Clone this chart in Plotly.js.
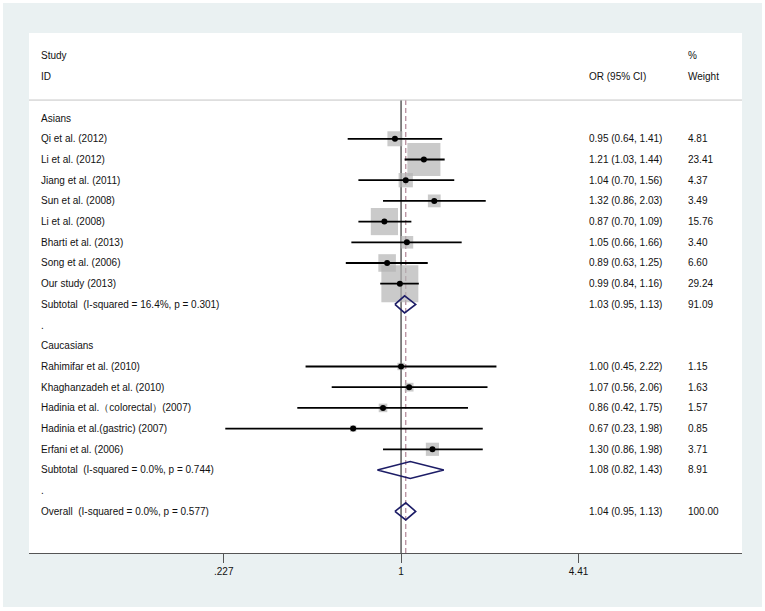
<!DOCTYPE html>
<html><head><meta charset="utf-8">
<script src="https://cdn.plot.ly/plotly-3.0.1.min.js"></script>
<style>html,body{margin:0;padding:0;background:#fff}</style>
</head><body><div id="chart" style="width:765px;height:611px"></div>
<script>
// ---- data ----
const groupNames = ["Asians", "Caucasians"];
const asianStudies = ["Qi et al. (2012)", "Li et al. (2012)", "Jiang et al. (2011)", "Sun et al. (2008)",
  "Li et al. (2008)", "Bharti et al. (2013)", "Song et al. (2006)", "Our study (2013)"];
const asianOR = [0.95, 1.21, 1.04, 1.32, 0.87, 1.05, 0.89, 0.99];
const asianLo = [0.64, 1.03, 0.70, 0.86, 0.70, 0.66, 0.63, 0.84];
const asianHi = [1.41, 1.44, 1.56, 2.03, 1.09, 1.66, 1.25, 1.16];
const asianWeight = [4.81, 23.41, 4.37, 3.49, 15.76, 3.40, 6.60, 29.24];
const cauStudies = ["Rahimifar et al. (2010)", "Khaghanzadeh et al. (2010)", "Hadinia et al.（colorectal）(2007)",
  "Hadinia et al.(gastric) (2007)", "Erfani et al. (2006)"];
const cauOR = [1.00, 1.07, 0.86, 0.67, 1.30];
const cauLo = [0.45, 0.56, 0.42, 0.23, 0.86];
const cauHi = [2.22, 2.06, 1.75, 1.98, 1.98];
const cauWeight = [1.15, 1.63, 1.57, 0.85, 3.71];
const subtotalLabels = ["Subtotal  (I-squared = 16.4%, p = 0.301)", "Subtotal  (I-squared = 0.0%, p = 0.744)"];
const subtotalOR = [1.03, 1.08];
const subtotalLo = [0.95, 0.82];
const subtotalHi = [1.13, 1.43];
const subtotalWeight = [91.09, 8.91];
const overallLabel = "Overall  (I-squared = 0.0%, p = 0.577)";
const overallOR = 1.04, overallLo = 0.95, overallHi = 1.13, overallWeight = 100.00;
const tickVals = [0.227, 1, 4.41];
const tickText = [".227", "1", "4.41"];

// ---- build rows ----
const rows = [];
function addGroup(gi, names, or, lo, hi, w) {
  rows.push({label: groupNames[gi], kind: 'head'});
  names.forEach((n, i) => rows.push({label: n, or: or[i], lo: lo[i], hi: hi[i], w: w[i], kind: 'study'}));
  rows.push({label: subtotalLabels[gi], or: subtotalOR[gi], lo: subtotalLo[gi], hi: subtotalHi[gi], w: subtotalWeight[gi], kind: 'pool'});
  rows.push({label: '.', kind: 'blank'});
}
addGroup(0, asianStudies, asianOR, asianLo, asianHi, asianWeight);
addGroup(1, cauStudies, cauOR, cauLo, cauHi, cauWeight);
rows.push({label: overallLabel, or: overallOR, lo: overallLo, hi: overallHi, w: overallWeight, kind: 'pool'});

const traces = [];
const bx = [], by = [], bs = [];
const cx = [], cy = [];
const px = [], py = [];
rows.forEach((r, i) => {
  if (r.kind === 'study') {
    bx.push(r.or); by.push(i); bs.push(6.84 * Math.sqrt(r.w));
    cx.push(r.lo, r.hi, null); cy.push(i, i, null);
    px.push(r.or); py.push(i);
  }
});
traces.push({type: 'scatter', mode: 'markers', x: bx, y: by, hoverinfo: 'skip',
  marker: {symbol: 'square', size: bs, color: '#b4b4b4', line: {width: 0}}});
traces.push({type: 'scatter', mode: 'lines', x: cx, y: cy, hoverinfo: 'skip',
  line: {color: '#000', width: 1.8}});
traces.push({type: 'scatter', mode: 'markers', x: px, y: py, hoverinfo: 'skip',
  marker: {symbol: 'circle', size: 6, color: '#000'}});
rows.forEach((r, i) => {
  if (r.kind === 'pool') {
    const h = 0.41;
    traces.push({type: 'scatter', mode: 'lines',
      x: [r.lo, r.or, r.hi, r.or, r.lo], y: [i, i - h, i, i + h, i], hoverinfo: 'skip',
      line: {color: '#1c1c66', width: 1.6}});
  }
});

const font = {family: 'Liberation Sans, Arial, sans-serif', size: 10, color: '#111'};
const xLab = 0.014, xOR = 0.7826, xW = 0.9215;
const ann = [];
function txt(x, y, t) {
  ann.push({xref: 'paper', yref: 'y', x: x, y: y, text: t, showarrow: false, xanchor: 'left', yanchor: 'middle', font: font});
}
txt(xLab, -3, 'Study'); txt(xLab, -2, 'ID');
txt(xOR, -2, 'OR (95% CI)');
txt(xW, -3, '%'); txt(xW, -2, 'Weight');
rows.forEach((r, i) => {
  txt(xLab, i, r.label);
  if (r.or !== undefined) {
    txt(xOR, i, r.or.toFixed(2) + ' (' + r.lo.toFixed(2) + ', ' + r.hi.toFixed(2) + ')');
    txt(xW, i, r.w.toFixed(2));
  }
});

const yTop = -4.11, yBot = 21.01, yHead = -0.87;
const shapes = [
  {type: 'rect', xref: 'paper', yref: 'paper', x0: -0.0365, x1: 1.028, y0: -0.1038, y1: 1.0577,
    fillcolor: '#eaf1f2', line: {width: 0}, layer: 'below'},
  {type: 'rect', xref: 'paper', yref: 'paper', x0: 0, x1: 1, y0: 0, y1: 1,
    fillcolor: '#ffffff', line: {width: 0}, layer: 'below'},
  {type: 'line', xref: 'paper', yref: 'y', x0: 0, x1: 1, y0: yHead, y1: yHead,
    line: {color: '#c4c4c4', width: 1}},
  {type: 'line', xref: 'x', yref: 'y', x0: 1, x1: 1, y0: yHead, y1: yBot,
    line: {color: '#333', width: 1.2}, layer: 'below'},
  {type: 'line', xref: 'x', yref: 'y', x0: overallOR, x1: overallOR, y0: yHead, y1: yBot,
    line: {color: '#b08595', width: 1.2, dash: '5px,3px'}, layer: 'below'}
];

const layout = {
  width: 765, height: 611,
  margin: {l: 29, r: 23, t: 33, b: 58, pad: 0},
  paper_bgcolor: '#ffffff', plot_bgcolor: 'rgba(0,0,0,0)',
  showlegend: false,
  xaxis: {type: 'log', range: [-1.351, 1.238], tickvals: tickVals, ticktext: tickText,
    showgrid: false, zeroline: false, showline: true, linecolor: '#555', linewidth: 1,
    ticks: 'outside', ticklen: 9, tickcolor: '#555', tickwidth: 1,
    tickfont: {family: 'Liberation Sans, Arial, sans-serif', size: 10, color: '#111'}, fixedrange: true},
  yaxis: {range: [yBot, yTop], visible: false, showgrid: false, zeroline: false, fixedrange: true},
  annotations: ann,
  shapes: shapes
};
Plotly.newPlot('chart', traces, layout, {displayModeBar: false, staticPlot: true});
</script></body></html>
